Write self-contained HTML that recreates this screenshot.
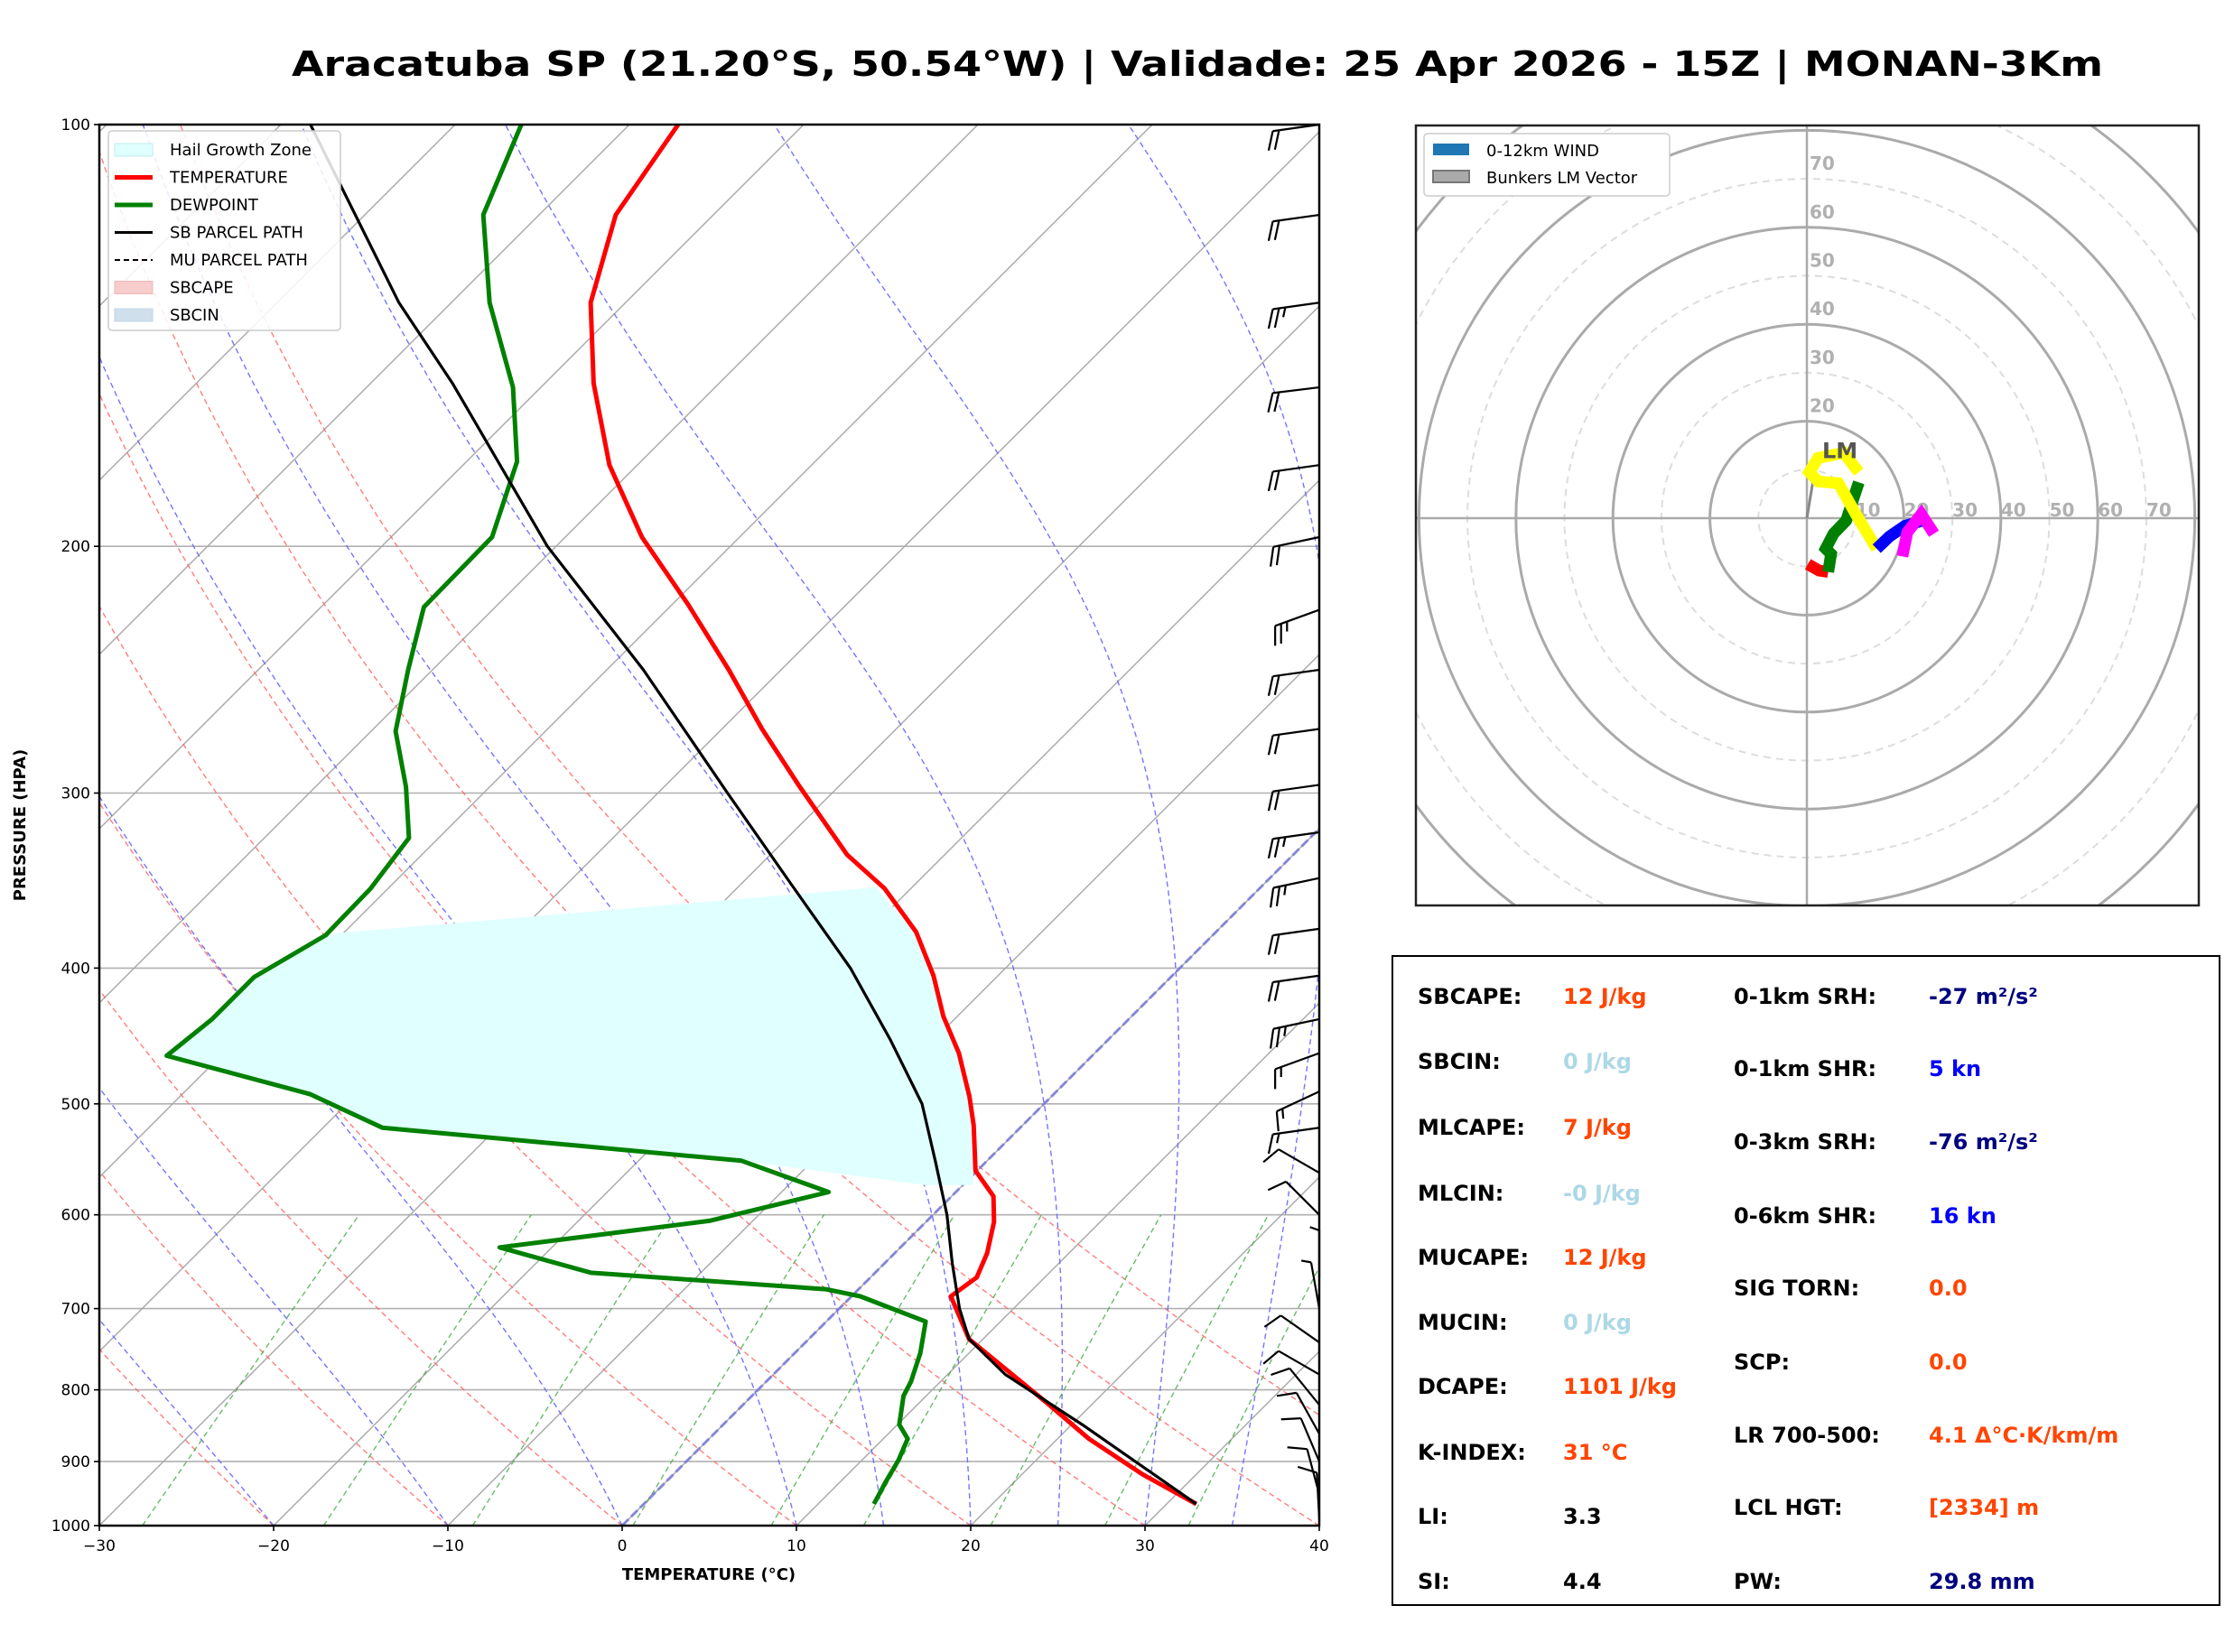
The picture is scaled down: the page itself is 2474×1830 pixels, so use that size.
<!DOCTYPE html>
<html><head><meta charset="utf-8">
<style>
html,body{margin:0;padding:0;background:#fff;}
svg{display:block;font-family:"DejaVu Sans","Liberation Sans",sans-serif;}
</style></head>
<body>
<svg id="fig" width="2474" height="1830" viewBox="0 0 2474 1830" xmlns="http://www.w3.org/2000/svg">
<defs>
<clipPath id="skclip"><rect x="110" y="138" width="1351" height="1552"/></clipPath>
<clipPath id="hoclip"><rect x="1568" y="139" width="867" height="864"/></clipPath>
</defs>
<text x="1326" y="84" text-anchor="middle" font-size="38" font-weight="bold" textLength="2006" lengthAdjust="spacingAndGlyphs">Aracatuba SP (21.20°S, 50.54°W) | Validade: 25 Apr 2026 - 15Z | MONAN-3Km</text>
<g id="skew"></g>
<g id="hodo"></g>
<g id="stats">
<rect x="1542" y="1059" width="916" height="719" fill="none" stroke="#000" stroke-width="2"/>
<g font-size="24" font-weight="bold">
<text x="1570" y="1112">SBCAPE:</text><text x="1731" y="1112" fill="#ff4500">12 J/kg</text>
<text x="1570" y="1184">SBCIN:</text><text x="1731" y="1184" fill="#add8e6">0 J/kg</text>
<text x="1570" y="1257">MLCAPE:</text><text x="1731" y="1257" fill="#ff4500">7 J/kg</text>
<text x="1570" y="1330">MLCIN:</text><text x="1731" y="1330" fill="#add8e6">-0 J/kg</text>
<text x="1570" y="1401">MUCAPE:</text><text x="1731" y="1401" fill="#ff4500">12 J/kg</text>
<text x="1570" y="1473">MUCIN:</text><text x="1731" y="1473" fill="#add8e6">0 J/kg</text>
<text x="1570" y="1544">DCAPE:</text><text x="1731" y="1544" fill="#ff4500">1101 J/kg</text>
<text x="1570" y="1617">K-INDEX:</text><text x="1731" y="1617" fill="#ff4500">31 °C</text>
<text x="1570" y="1688">LI:</text><text x="1731" y="1688">3.3</text>
<text x="1570" y="1760">SI:</text><text x="1731" y="1760">4.4</text>
<text x="1920" y="1112">0-1km SRH:</text><text x="2136" y="1112" fill="#000080">-27 m²/s²</text>
<text x="1920" y="1192">0-1km SHR:</text><text x="2136" y="1192" fill="#0000ff">5 kn</text>
<text x="1920" y="1273">0-3km SRH:</text><text x="2136" y="1273" fill="#000080">-76 m²/s²</text>
<text x="1920" y="1355">0-6km SHR:</text><text x="2136" y="1355" fill="#0000ff">16 kn</text>
<text x="1920" y="1435">SIG TORN:</text><text x="2136" y="1435" fill="#ff4500">0.0</text>
<text x="1920" y="1517">SCP:</text><text x="2136" y="1517" fill="#ff4500">0.0</text>
<text x="1920" y="1598">LR 700-500:</text><text x="2136" y="1598" fill="#ff4500">4.1 Δ°C·K/km/m</text>
<text x="1920" y="1678">LCL HGT:</text><text x="2136" y="1678" fill="#ff4500">[2334] m</text>
<text x="1920" y="1760">PW:</text><text x="2136" y="1760" fill="#000080">29.8 mm</text>
</g>
</g>
</svg>
<script>
// ---- Skew-T data ----
const tempP = [965,919,867,817,771,736,686,665,639,607,582,558,518,494,460,433,405,377,351,332,296,270,245,220,197,175,153,134,116,100];
const tempT = [31.7,26.9,21.8,17.3,12.8,9.2,5.7,6.1,5.3,3.9,2.4,-0.1,-2.8,-4.7,-7.8,-10.8,-13.7,-17.2,-21.5,-25.6,-32.4,-37.7,-43,-49.1,-55.6,-61.6,-67.2,-72,-75.6,-77.2];
const dewP = [965,930,898,867,847,808,789,753,715,686,678,660,633,606,578,549,520,492,462,435,406,379,351,323,297,271,245,221,197,174,154,134,116,100];
const dewT = [13.2,12.6,12.1,11.4,10.1,8.7,8.3,7.2,5.7,0.5,-1.9,-16.3,-23,-12.5,-7.3,-14.1,-36.6,-42.7,-53.1,-52.6,-52.6,-50.9,-51,-51.7,-54.8,-58.6,-61.4,-64.1,-64.2,-67.1,-71.6,-77.8,-83.2,-86.2];
const parcelP = [965,847,780,736,700,650,600,550,500,450,400,348,300,245,200,153,134,100];
const parcelT = [31.7,20.6,13.3,9.2,6.9,3.9,0.8,-2.9,-7,-12.5,-18.9,-27.2,-36,-47.9,-60.5,-75.3,-83,-98.3];
const windP = [100,116,134,154,175,197,222,245,270,296,320,345,375,405,435,460,490,520,560,600,665,700,740,780,820,860,900,950,990];
const windDir = [262,262,262,263,262,258,250,262,262,262,262,258,262,262,258,250,245,262,300,315,0,350,305,300,321,331,337,345,357];
const windSpd = [20,20,25,20,20,20,25,20,20,20,25,25,20,20,25,15,15,15,10,10,5,5,10,10,10,10,10,10,10];
const pTicks = [100,200,300,400,500,600,700,800,900,1000];
const tTicks = [-30,-20,-10,0,10,20,30,40];
// ---- Hodograph data (kn) ----
const hodoRedU=[0.2,2.5,4.4], hodoRedV=[-9.5,-10.8,-11.1];
const hodoGreenU=[4.4,5,3.9,5.5,8.1,10.7], hodoGreenV=[-11.1,-7.4,-6.3,-3.2,-0.5,7.4];
const hodoYellowU=[10.7,7.6,2.3,0.5,2.3,6.5,10,14.4], hodoYellowV=[9.5,13.5,12.4,9.5,7.6,7.2,1,-6.3];
const hodoBlueU=[14.4,17,20.2,23.9], hodoBlueV=[-6.3,-3.8,-1.6,-0.5];
const hodoMagU=[19.7,20.7,23.6,26.2], hodoMagV=[-7.9,-2.9,0.8,-3.2];
const lmU=1.3, lmV=7.9;
const hodoRings=[10,20,30,40,50,60,70,80,90,100];
const hodoLabels=[10,20,30,40,50,60,70];

const NS="http://www.w3.org/2000/svg";
function mk(tag,attrs,parent){const e=document.createElementNS(NS,tag);for(const k in attrs)e.setAttribute(k,attrs[k]);parent.appendChild(e);return e;}
const X0=110,X1=1461,Y0=138,Y1=1690,PXC=(X1-X0)/70;
function yP(p){return Y1-Math.log10(1000/p)*(Y1-Y0);}
function xT(T,p){return X0+(T+30)*PXC+(Y1-yP(p));}
const sk=document.getElementById('skew');
const clipG=mk('g',{'clip-path':'url(#skclip)'},sk);


pTicks.forEach(p=>{const l=mk('line',{x1:X0,x2:X1,y1:yP(p),y2:yP(p),stroke:'#b0b0b0','stroke-width':1.6},clipG);

});
for(let T=-160;T<=40;T+=10){const l=mk('line',{x1:xT(T,1000),y1:Y1,x2:xT(T,100),y2:Y0,stroke:'#a8a8a8','stroke-width':1.4},clipG);

}
function polyStr(ps,ts){return ps.map((p,i)=>xT(ts[i],p).toFixed(1)+','+yP(p).toFixed(1)).join(' ');}
const plevs=[];for(let p=1000;p>=100;p-=10)plevs.push(p);
for(let th=-40;th<=50;th+=10){const ts=plevs.map(p=>(th+273.15)*Math.pow(p/1000,0.2857)-273.15);
const l=mk('polyline',{points:polyStr(plevs,ts),fill:'none',stroke:'#ff6666','stroke-width':1.4,'stroke-dasharray':'6,4','opacity':0.85},clipG);

}
function es(Tc){return 6.112*Math.exp(17.67*Tc/(Tc+243.5));}
[-30,-20,-10,0,10,15,20,25,30,35].forEach(t0=>{let T=t0+273.15,pp=[],tt=[];
for(let p=1000;p>=100;p-=2){pp.push(p);tt.push(T-273.15);
const e=es(T-273.15),rs=0.622*e/(p-e);
const dTdp=(287.04*T+2.501e6*rs)/(1005.7+2.501e6*2.501e6*rs*0.622/(287.04*T*T))/p;
T-=dTdp*2;}
const l=mk('polyline',{points:polyStr(pp,tt),fill:'none',stroke:'#6666ff','stroke-width':1.4,'stroke-dasharray':'6,4','opacity':0.9},clipG);

});
[0.0004,0.001,0.002,0.004,0.007,0.01,0.016,0.024,0.032].forEach(w=>{const pp=[],tt=[];
for(let p=1000;p>=600;p-=10){const e=w*p/(0.622+w),ln=Math.log(e/6.112);pp.push(p);tt.push(243.5*ln/(17.67-ln));}
const l=mk('polyline',{points:polyStr(pp,tt),fill:'none',stroke:'#44aa44','stroke-width':1.4,'stroke-dasharray':'6,4','opacity':0.8},clipG);

});
const z=mk('line',{x1:xT(0,1000),y1:Y1,x2:xT(0,100),y2:Y0,stroke:'#7777dd','stroke-width':3,'stroke-dasharray':'10,4','opacity':0.8},clipG);


const hgzD=[[238,655],[615,623],[642,655],[655,685],[662,714],[672,740],[680,770],[684,790],[683,832],[650,832],[520,815],[268,792],[218,768],[117,742],[148,716],[178,686],[228,657]];
const hgz=mk('polygon',{points:hgzD.map(q=>(q[0]*1.5778).toFixed(1)+','+(q[1]*1.5778).toFixed(1)).join(' '),fill:'#e0ffff',stroke:'none'},clipG);


const tl=mk('polyline',{points:polyStr(tempP,tempT),fill:'none',stroke:'#ff0000','stroke-width':5,'stroke-linejoin':'round'},clipG);


const dl=mk('polyline',{points:polyStr(dewP,dewT),fill:'none',stroke:'#008000','stroke-width':5,'stroke-linejoin':'round'},clipG);


const pl=mk('polyline',{points:polyStr(parcelP,parcelT),fill:'none',stroke:'#000','stroke-width':3.2,'stroke-linejoin':'round'},clipG);


windP.forEach((p,i)=>{const g=mk('g',{stroke:'#000','stroke-width':2.2,fill:'none'},sk);


const a=windDir[i]*Math.PI/180,sx=Math.sin(a),sy=-Math.cos(a),L=52,bx=X1,by=yP(p);
const ex=bx+sx*L,ey=by+sy*L;mk('line',{x1:bx,y1:by,x2:ex,y2:ey},g);
const r=-70*Math.PI/180,tx=sx*Math.cos(r)-sy*Math.sin(r),ty=sx*Math.sin(r)+sy*Math.cos(r);
let s=windSpd[i],k=0;
while(s>=5){const len=s>=10?22:11,ox=ex-sx*k*7,oy=ey-sy*k*7;mk('line',{x1:ox,y1:oy,x2:ox+tx*len,y2:oy+ty*len},g);s-=(s>=10?10:5);k++;}});
const fr=mk('rect',{x:X0,y:Y0,width:X1-X0,height:Y1-Y0,fill:'none',stroke:'#000','stroke-width':2.5},sk);


pTicks.forEach(p=>{mk('line',{x1:X0-6,x2:X0,y1:yP(p),y2:yP(p),stroke:'#000','stroke-width':1.6},sk);
const t=mk('text',{x:X0-10,y:yP(p)+6,'text-anchor':'end','font-size':17},sk);t.textContent=p;

});
tTicks.forEach(T=>{const x=X0+(T+30)*PXC;mk('line',{x1:x,x2:x,y1:Y1,y2:Y1+6,stroke:'#000','stroke-width':1.6},sk);
const t=mk('text',{x:x,y:Y1+28,'text-anchor':'middle','font-size':17},sk);t.textContent=(T<0?'\u2212'+(-T):T);

});
const xl=mk('text',{x:785,y:1750,'text-anchor':'middle','font-size':18,'font-weight':'bold'},sk);xl.textContent='TEMPERATURE (°C)';


const yl=mk('text',{x:28,y:914,'text-anchor':'middle','font-size':18,'font-weight':'bold',transform:'rotate(-90 28 914)'},sk);yl.textContent='PRESSURE (HPA)';


const lg=mk('g',{},sk);


mk('rect',{x:120,y:145,width:257,height:221,rx:4,fill:'#fff','fill-opacity':0.85,stroke:'#ccc','stroke-width':1.5},lg);
const items=[['Hail Growth Zone','patch','#e0ffff','#bfeeee'],['TEMPERATURE','line','#ff0000'],['DEWPOINT','line','#008000'],['SB PARCEL PATH','line','#000'],['MU PARCEL PATH','dash','#000'],['SBCAPE','patch','#f6cccc','#f0b8b8'],['SBCIN','patch','#cfdfec','#c0d4e6']];
items.forEach((it,i)=>{const y=166+i*30.5;
if(it[1]==='patch')mk('rect',{x:127,y:y-7,width:42,height:14,fill:it[2],stroke:it[3]},lg);
else mk('line',{x1:127,x2:169,y1:y,y2:y,stroke:it[2],'stroke-width':it[1]==='line'?(i===3?3:5):2,'stroke-dasharray':it[1]==='dash'?'6,4':'none'},lg);
const t=mk('text',{x:188,y:y+6,'font-size':18},lg);t.textContent=it[0];

});

// ---- Hodograph ----
const ho=document.getElementById('hodo');
const HCX=2001,HCY=574,HS=5.37;
const hx=u=>HCX+u*HS, hy=v=>HCY-v*HS;
const hc=mk('g',{'clip-path':'url(#hoclip)'},ho);


hodoRings.forEach(r=>{const solid=r%20===0;const c=mk('circle',{cx:HCX,cy:HCY,r:r*HS,fill:'none',stroke:solid?'#aaaaaa':'#dddddd','stroke-width':solid?3:2,'stroke-dasharray':solid?'none':'8,6'},hc);

});
mk('line',{x1:1568,x2:2435,y1:HCY,y2:HCY,stroke:'#aaa','stroke-width':2.5},hc);
mk('line',{x1:HCX,x2:HCX,y1:139,y2:1003,stroke:'#aaa','stroke-width':2.5},hc);
hodoLabels.forEach(k=>{const t=mk('text',{x:hx(k)+14,y:HCY-2,'text-anchor':'middle','font-size':20,'font-weight':'bold',fill:'#b0b0b0'},hc);t.textContent=k;


if(k>10){const t2=mk('text',{x:HCX+3,y:hy(k)-10,'font-size':20,'font-weight':'bold',fill:'#b0b0b0'},hc);t2.textContent=k;

}});
const lmL=mk('line',{x1:HCX,y1:HCY,x2:hx(lmU),y2:hy(lmV),stroke:'#888','stroke-width':3},hc);


[[hodoRedU,hodoRedV,'#ff0000','hodo-segment-red'],[hodoGreenU,hodoGreenV,'#008000','hodo-segment-green'],[hodoYellowU,hodoYellowV,'#ffff00','hodo-segment-yellow'],[hodoBlueU,hodoBlueV,'#0000ff','hodo-segment-blue'],[hodoMagU,hodoMagV,'#ff00ff','hodo-segment-magenta']].forEach(s=>{
const pl=mk('polyline',{points:s[0].map((u,i)=>hx(u).toFixed(1)+','+hy(s[1][i]).toFixed(1)).join(' '),fill:'none',stroke:s[2],'stroke-width':13,'stroke-linejoin':'miter'},hc);

});
const lmt=mk('text',{x:hx(lmU)+10,y:hy(lmV)-24,'font-size':24,'font-weight':'bold',fill:'#555'},hc);lmt.textContent='LM';


const hf=mk('rect',{x:1568,y:139,width:867,height:864,fill:'none',stroke:'#222','stroke-width':2.5},ho);


const hl=mk('g',{},ho);


mk('rect',{x:1577,y:148,width:272,height:69,rx:4,fill:'#fff',stroke:'#ccc','stroke-width':1.5},hl);
mk('rect',{x:1587,y:159,width:40,height:13,fill:'#1f77b4'},hl);
mk('rect',{x:1587,y:189,width:40,height:13,fill:'#aaaaaa',stroke:'#777','stroke-width':2},hl);
const h1=mk('text',{x:1646,y:173,'font-size':18},hl);h1.textContent='0-12km WIND';


const h2=mk('text',{x:1646,y:203,'font-size':18},hl);h2.textContent='Bunkers LM Vector';


</script>
</body></html>
